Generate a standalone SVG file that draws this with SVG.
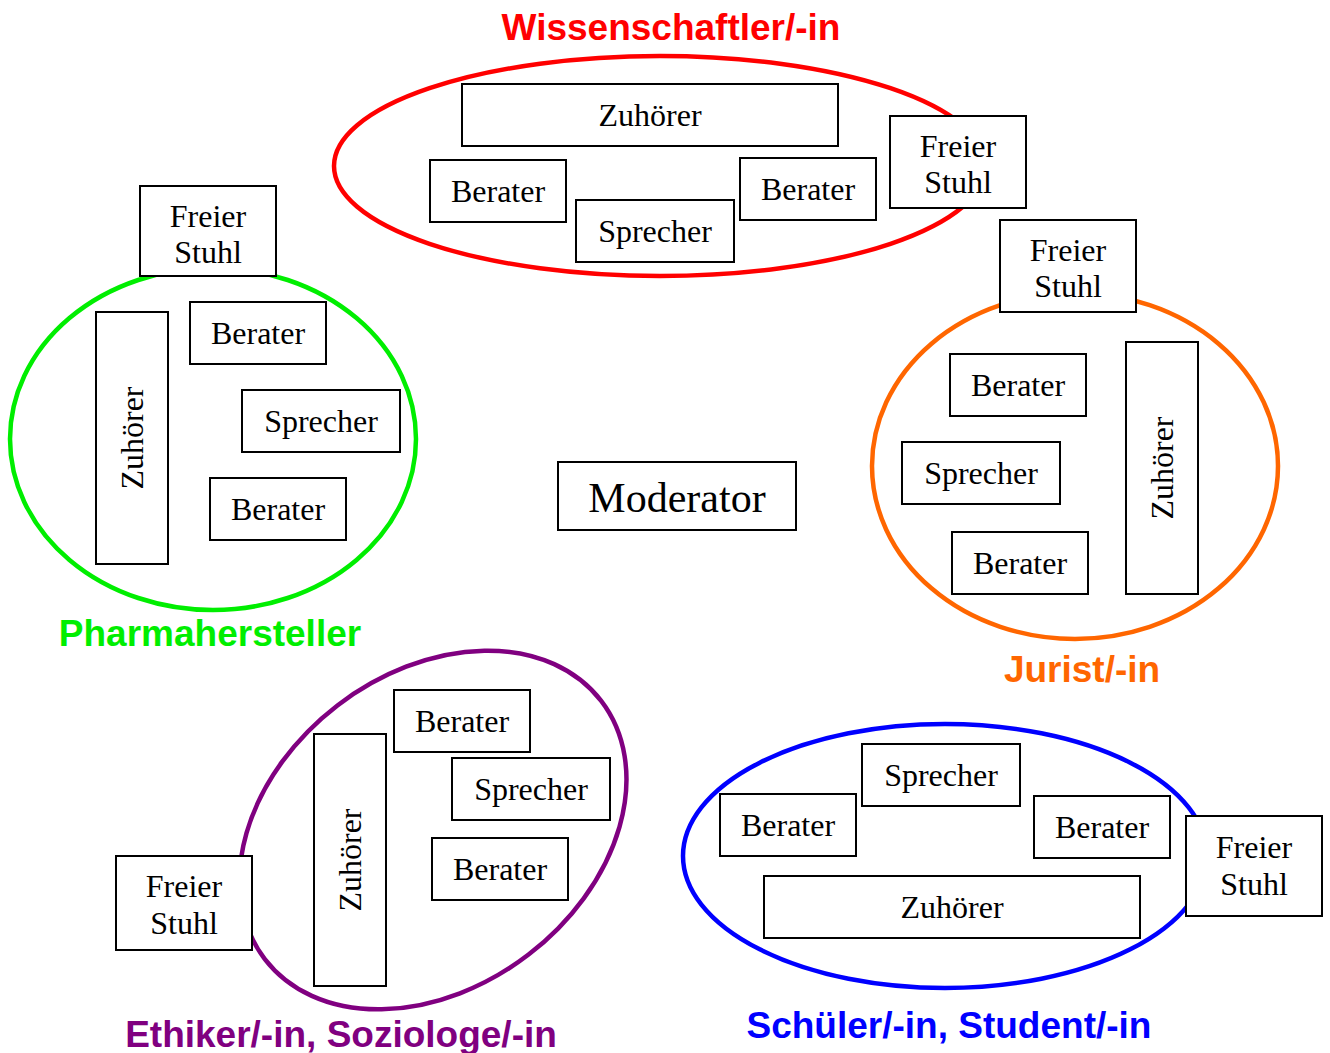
<svg xmlns="http://www.w3.org/2000/svg" width="1330" height="1053" viewBox="0 0 1330 1053">
<style>
.bx{fill:#fff;stroke:#000;stroke-width:2}
.t{font-family:"Liberation Serif","Times New Roman",serif;font-size:32px;fill:#000;text-anchor:middle}
.lb{font-family:"Liberation Sans",Arial,sans-serif;font-size:37px;font-weight:bold;text-anchor:middle}
.el{fill:none;stroke-width:4.5}
</style>
<rect width="1330" height="1053" fill="#fff"/>
<g id="connectors"></g>

<g id="wissenschaftler">
<ellipse class="el" stroke="#ff0000" cx="660" cy="166" rx="326" ry="110"/>
<text class="lb" fill="#ff0000" x="671" y="40">Wissenschaftler/-in</text>
<g id="w-zuhoerer"><rect class="bx" x="462" y="84" width="376" height="62"/><text class="t" x="650" y="126">Zuhörer</text></g>
<g id="w-berater1"><rect class="bx" x="430" y="160" width="136" height="62"/><text class="t" x="498" y="202">Berater</text></g>
<g id="w-sprecher"><rect class="bx" x="576" y="200" width="158" height="62"/><text class="t" x="655" y="242">Sprecher</text></g>
<g id="w-berater2"><rect class="bx" x="740" y="158" width="136" height="62"/><text class="t" x="808" y="200">Berater</text></g>
<g id="w-stuhl"><rect class="bx" x="890" y="116" width="136" height="92"/><text class="t" x="958" y="157">Freier</text><text class="t" x="958" y="193">Stuhl</text></g>
</g>

<g id="pharma">
<ellipse class="el" stroke="#00ee00" cx="213" cy="439" rx="203" ry="171"/>
<text class="lb" fill="#00ee00" x="210" y="646">Pharmahersteller</text>
<g id="p-stuhl"><rect class="bx" x="140" y="186" width="136" height="90"/><text class="t" x="208" y="227">Freier</text><text class="t" x="208" y="263">Stuhl</text></g>
<g id="p-zuhoerer"><rect class="bx" x="96" y="312" width="72" height="252"/><text class="t" transform="translate(132 438) rotate(-90)" x="0" y="11">Zuhörer</text></g>
<g id="p-berater1"><rect class="bx" x="190" y="302" width="136" height="62"/><text class="t" x="258" y="344">Berater</text></g>
<g id="p-sprecher"><rect class="bx" x="242" y="390" width="158" height="62"/><text class="t" x="321" y="432">Sprecher</text></g>
<g id="p-berater2"><rect class="bx" x="210" y="478" width="136" height="62"/><text class="t" x="278" y="520">Berater</text></g>
</g>

<g id="jurist">
<ellipse class="el" stroke="#ff6600" cx="1075" cy="466" rx="203" ry="173"/>
<text class="lb" fill="#ff6600" x="1082" y="682">Jurist/-in</text>
<g id="j-stuhl"><rect class="bx" x="1000" y="220" width="136" height="92"/><text class="t" x="1068" y="261">Freier</text><text class="t" x="1068" y="297">Stuhl</text></g>
<g id="j-berater1"><rect class="bx" x="950" y="354" width="136" height="62"/><text class="t" x="1018" y="396">Berater</text></g>
<g id="j-sprecher"><rect class="bx" x="902" y="442" width="158" height="62"/><text class="t" x="981" y="484">Sprecher</text></g>
<g id="j-berater2"><rect class="bx" x="952" y="532" width="136" height="62"/><text class="t" x="1020" y="574">Berater</text></g>
<g id="j-zuhoerer"><rect class="bx" x="1126" y="342" width="72" height="252"/><text class="t" transform="translate(1162 468) rotate(-90)" x="0" y="11">Zuhörer</text></g>
</g>

<g id="moderator"><rect class="bx" x="558" y="462" width="238" height="68"/><text class="t" style="font-size:42px" x="677" y="512">Moderator</text></g>

<g id="ethiker">
<ellipse class="el" stroke="#800080" cx="433" cy="830" rx="212" ry="157" transform="rotate(-37.5 433 830)"/>
<text class="lb" fill="#800080" x="341" y="1047">Ethiker/-in, Soziologe/-in</text>
<g id="e-stuhl"><rect class="bx" x="116" y="856" width="136" height="94"/><text class="t" x="184" y="897">Freier</text><text class="t" x="184" y="934">Stuhl</text></g>
<g id="e-zuhoerer"><rect class="bx" x="314" y="734" width="72" height="252"/><text class="t" transform="translate(350 860) rotate(-90)" x="0" y="11">Zuhörer</text></g>
<g id="e-berater1"><rect class="bx" x="394" y="690" width="136" height="62"/><text class="t" x="462" y="732">Berater</text></g>
<g id="e-sprecher"><rect class="bx" x="452" y="758" width="158" height="62"/><text class="t" x="531" y="800">Sprecher</text></g>
<g id="e-berater2"><rect class="bx" x="432" y="838" width="136" height="62"/><text class="t" x="500" y="880">Berater</text></g>
</g>

<g id="schueler">
<ellipse class="el" stroke="#0000ff" cx="945" cy="856" rx="262" ry="132"/>
<text class="lb" fill="#0000ff" x="949" y="1038">Schüler/-in, Student/-in</text>
<g id="s-sprecher"><rect class="bx" x="862" y="744" width="158" height="62"/><text class="t" x="941" y="786">Sprecher</text></g>
<g id="s-berater1"><rect class="bx" x="720" y="794" width="136" height="62"/><text class="t" x="788" y="836">Berater</text></g>
<g id="s-berater2"><rect class="bx" x="1034" y="796" width="136" height="62"/><text class="t" x="1102" y="838">Berater</text></g>
<g id="s-zuhoerer"><rect class="bx" x="764" y="876" width="376" height="62"/><text class="t" x="952" y="918">Zuhörer</text></g>
<g id="s-stuhl"><rect class="bx" x="1186" y="816" width="136" height="100"/><text class="t" x="1254" y="858">Freier</text><text class="t" x="1254" y="895">Stuhl</text></g>
</g>
</svg>
